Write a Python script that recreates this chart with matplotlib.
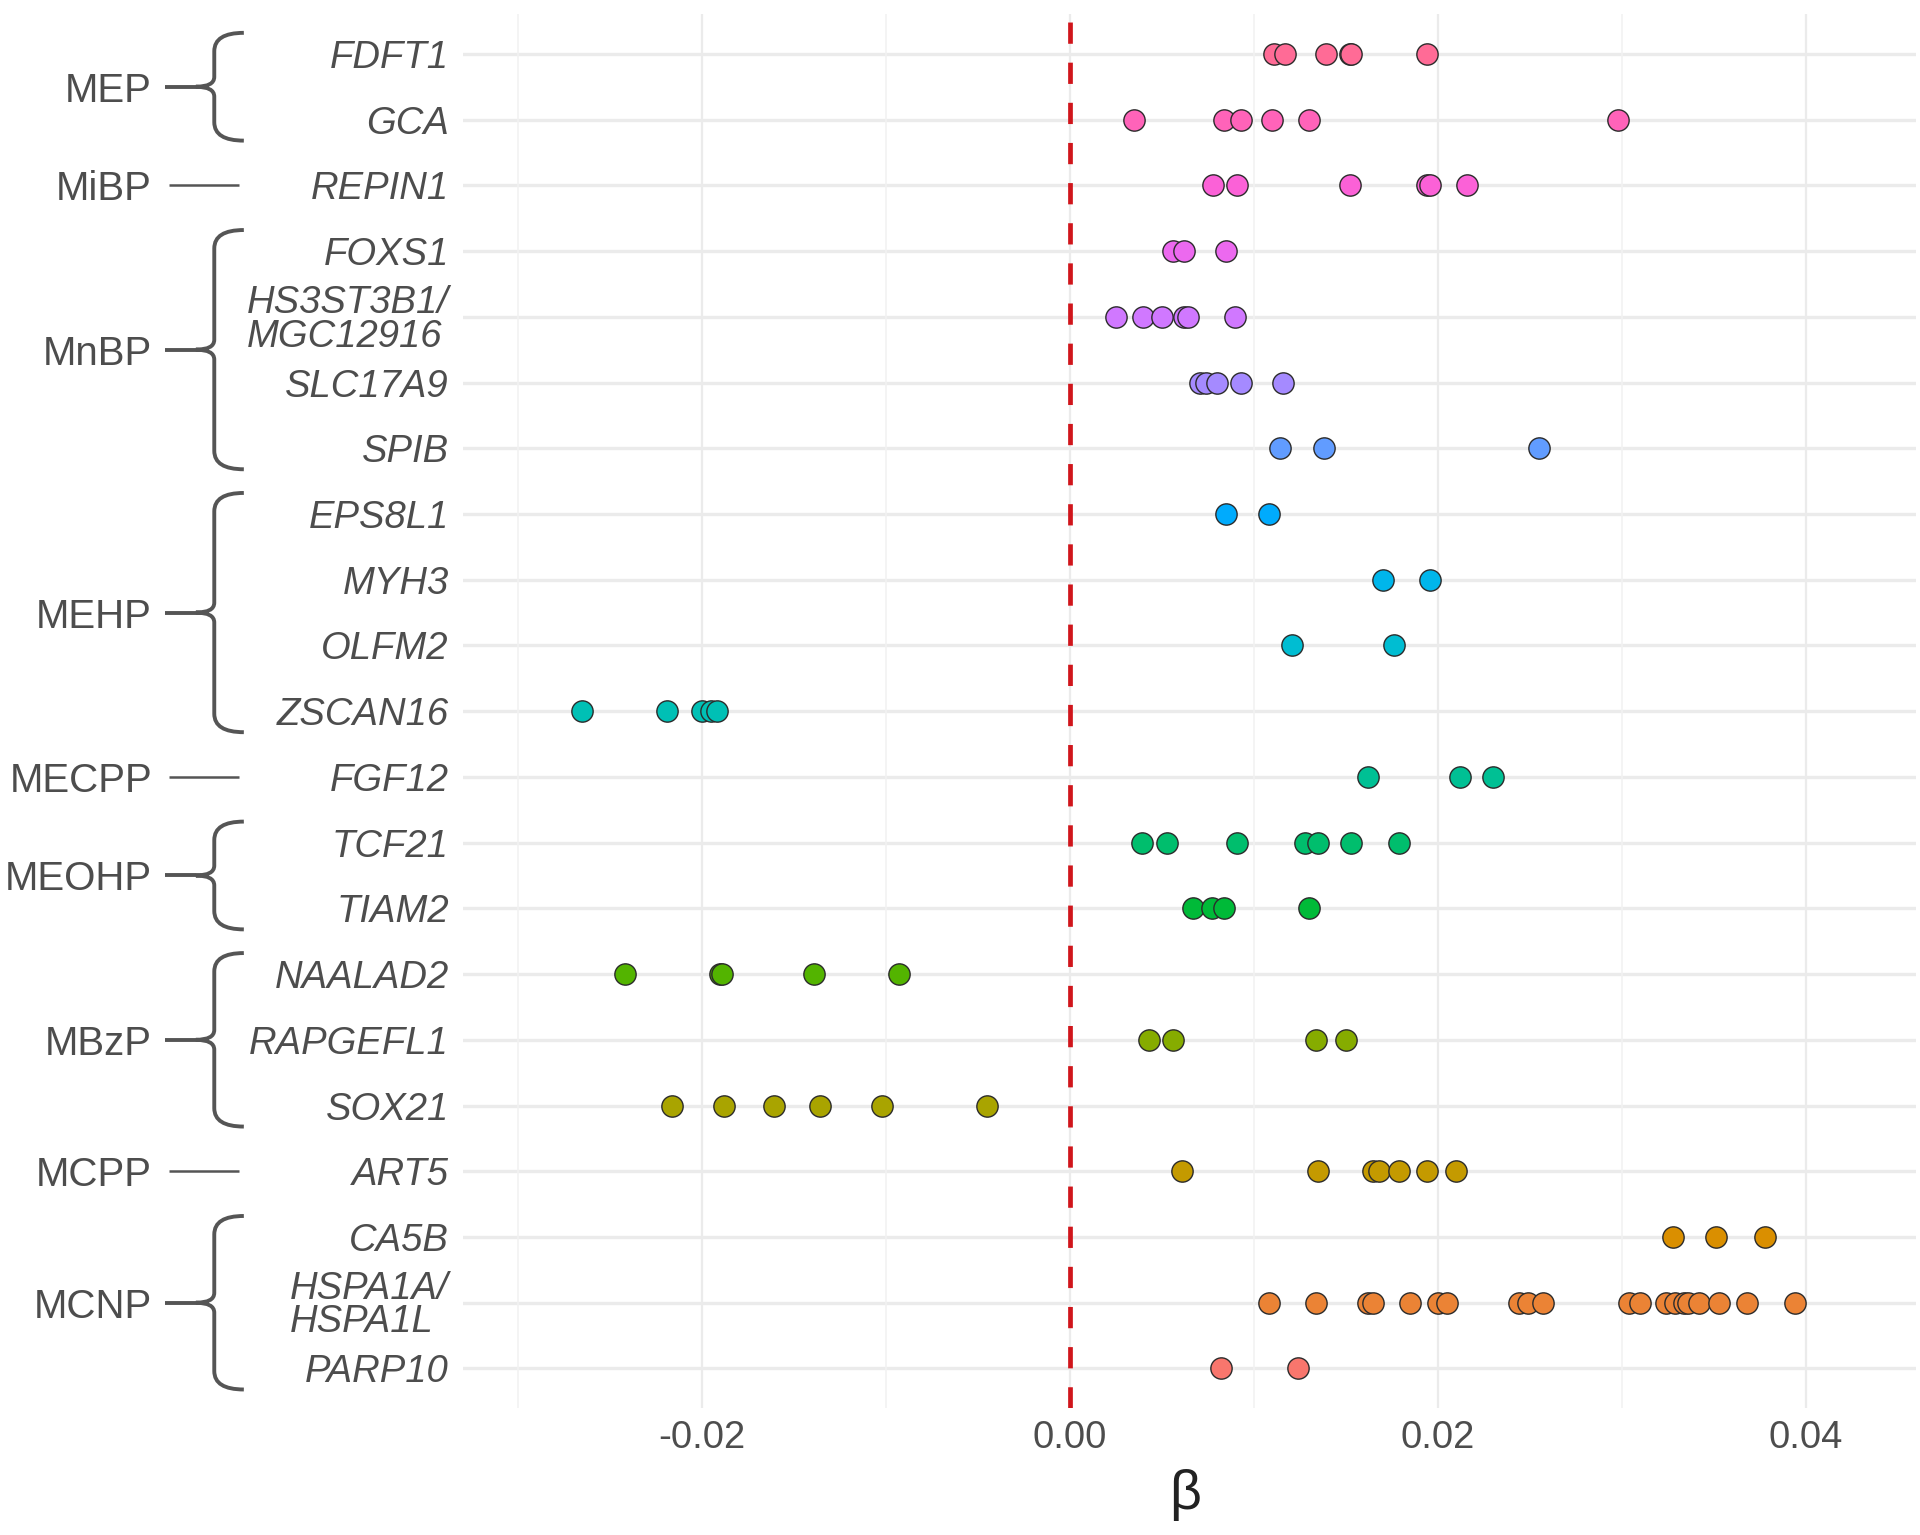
import matplotlib
matplotlib.use('Agg')
import matplotlib.pyplot as plt
from matplotlib.path import Path
from matplotlib.patches import PathPatch
from matplotlib.transforms import blended_transform_factory
import numpy as np

# genes from top to bottom, with their metabolite group
genes = ["FDFT1", "GCA", "REPIN1", "FOXS1", "HS3ST3B1/\nMGC12916", "SLC17A9", "SPIB",
         "EPS8L1", "MYH3", "OLFM2", "ZSCAN16", "FGF12", "TCF21", "TIAM2",
         "NAALAD2", "RAPGEFL1", "SOX21", "ART5", "CA5B", "HSPA1A/\nHSPA1L", "PARP10"]

groups = ["MEP", "MiBP", "MnBP", "MEHP", "MECPP", "MEOHP", "MBzP", "MCPP", "MCNP"]
group_sizes = [2, 1, 4, 4, 1, 2, 3, 1, 3]

# beta estimates per gene (same order as genes)
betas = [
    [0.0111, 0.0117, 0.0139, 0.0152, 0.0153, 0.0194],
    [0.0035, 0.0084, 0.0093, 0.0110, 0.0130, 0.0298],
    [0.0078, 0.0091, 0.0152, 0.0194, 0.0196, 0.0216],
    [0.0056, 0.0062, 0.0085],
    [0.0025, 0.0040, 0.0050, 0.0062, 0.0064, 0.0090],
    [0.0071, 0.0074, 0.0080, 0.0093, 0.0116],
    [0.0114, 0.0138, 0.0255],
    [0.0085, 0.0108],
    [0.0170, 0.0196],
    [0.0121, 0.0176],
    [-0.0265, -0.0219, -0.0200, -0.0195, -0.0192],
    [0.0162, 0.0212, 0.0230],
    [0.0039, 0.0053, 0.0091, 0.0128, 0.0135, 0.0153, 0.0179],
    [0.0067, 0.0077, 0.0084, 0.0130],
    [-0.0242, -0.0190, -0.0189, -0.0139, -0.0093],
    [0.0043, 0.0056, 0.0134, 0.0150],
    [-0.0216, -0.0188, -0.0161, -0.0136, -0.0102, -0.0045],
    [0.0061, 0.0135, 0.0165, 0.0168, 0.0179, 0.0194, 0.0210],
    [0.0328, 0.0351, 0.0378],
    [0.0108, 0.0134, 0.0162, 0.0165, 0.0185, 0.0200, 0.0205, 0.0244, 0.0249, 0.0257,
     0.0304, 0.0310, 0.0324, 0.0329, 0.0334, 0.0336, 0.0342, 0.0353, 0.0368, 0.0394],
    [0.0082, 0.0124],
]

xticks = [-0.02, 0.00, 0.02, 0.04]
xtick_labels = ["-0.02", "0.00", "0.02", "0.04"]


def hue_colour(h, c=100, l=65):
    # ggplot-style hcl colour -> rgb (CIE LUV, D65)
    hr = np.deg2rad(h)
    u, v = c * np.cos(hr), c * np.sin(hr)
    Y = ((l + 16) / 116) ** 3 if l > 8 else l / 903.3
    xn, yn, zn = 0.95047, 1.0, 1.08883
    un = 4 * xn / (xn + 15 * yn + 3 * zn)
    vn = 9 * yn / (xn + 15 * yn + 3 * zn)
    up = u / (13 * l) + un
    vp = v / (13 * l) + vn
    X = Y * 9 * up / (4 * vp)
    Z = Y * (12 - 3 * up - 20 * vp) / (4 * vp)
    m = np.array([[3.2404542, -1.5371385, -0.4985314],
                  [-0.9692660, 1.8760108, 0.0415560],
                  [0.0556434, -0.2040259, 1.0572252]])
    rgb = m @ np.array([X, Y, Z])
    rgb = np.where(rgb <= 0.0031308, 12.92 * rgb, 1.055 * np.clip(rgb, 0, None) ** (1 / 2.4) - 0.055)
    return tuple(np.clip(rgb, 0, 1))


n = len(genes)
ypos = [n - 1 - i for i in range(n)]
colours = [hue_colour(15 + 360 * (n - 1 - i) / n) for i in range(n)]

plt.rcParams['font.family'] = ['Liberation Sans', 'DejaVu Sans']
fig = plt.figure(figsize=(19.2, 15.35), dpi=100)
ax = fig.add_axes([0.241, 0.0828, 0.757, 0.9078])

for y in ypos:
    ax.axhline(y, color='#EBEBEB', lw=2.4, zorder=0)
for x in [-0.03, -0.01, 0.01, 0.03]:
    ax.axvline(x, color='#F2F2F2', lw=1.2, zorder=0)
for x in xticks:
    ax.axvline(x, color='#EBEBEB', lw=1.6, zorder=0)

ax.axvline(0, color='#D0151B', lw=3.4, ls=(0, (4.5, 4)), zorder=1)

for i in range(n):
    ax.scatter(betas[i], [ypos[i]] * len(betas[i]), s=235, color=colours[i],
               edgecolor='#2b2b2b', linewidth=1.0, zorder=3)

ax.set_xlim(-0.033, 0.046)
ax.set_ylim(-0.6, n - 0.4)
ax.set_xticks(xticks)
ax.set_xticklabels(xtick_labels)
ax.set_yticks(ypos)
ax.set_yticklabels(genes, style='italic', multialignment='left', linespacing=0.92)
ax.tick_params(axis='both', length=0, labelsize=27.5, colors='#4D4D4D')
ax.tick_params(axis='y', pad=10)
ax.tick_params(axis='x', pad=9)
for s in ax.spines.values():
    s.set_visible(False)

fig.text(0.6175, 0.026, "β", fontsize=40, ha='center', va='center', color='#222222')

# group braces on the left
tr = blended_transform_factory(fig.transFigure, ax.transData)
x_v, x_end, x_tip, x_con = 0.1116, 0.127, 0.102, 0.086
rx, ry_end, ry_mid = 0.009, 0.28, 0.15
pad = 0.32
start = 0
for g, size in zip(groups, group_sizes):
    top = ypos[start]
    bot = ypos[start + size - 1]
    start += size
    mid = (top + bot) / 2
    ax.text(0.0792, mid, g, transform=tr, ha='right', va='center_baseline',
            fontsize=29, color='#4D4D4D')
    if size == 1:
        ax.plot([0.088, 0.1244], [mid, mid], transform=tr, color='#555555', lw=1.8,
                clip_on=False, solid_capstyle='butt')
        continue
    t, b = top + pad, bot - pad
    verts = [(x_end, t), (x_v, t), (x_v, t - ry_end),
             (x_v, mid + ry_mid), (x_v, mid), (x_tip, mid),
             (x_v, mid), (x_v, mid - ry_mid),
             (x_v, b + ry_end), (x_v, b), (x_end, b)]
    codes = [Path.MOVETO, Path.CURVE3, Path.CURVE3,
             Path.LINETO, Path.CURVE3, Path.CURVE3,
             Path.CURVE3, Path.CURVE3,
             Path.LINETO, Path.CURVE3, Path.CURVE3]
    ax.add_patch(PathPatch(Path(verts, codes), transform=tr, fill=False,
                           edgecolor='#555555', lw=2.8, clip_on=False))
    ax.plot([x_con, x_tip], [mid, mid], transform=tr, color='#555555', lw=2.8,
            clip_on=False, solid_capstyle='butt')

fig.savefig("out.png", dpi=100, facecolor='white')
